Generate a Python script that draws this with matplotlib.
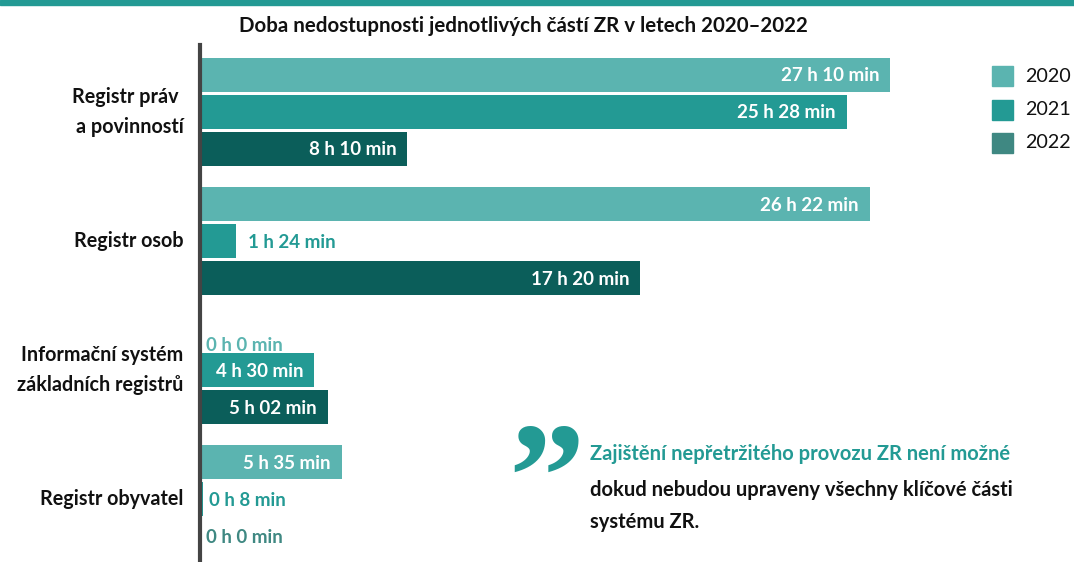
import matplotlib

matplotlib.use("Agg")
from matplotlib import pyplot
from matplotlib.patches import Rectangle

plt = pyplot
plt.rcParams["font.family"] = ["Lato", "DejaVu Sans"]

# data
categories = ["Registr práv \na povinností", "Registr osob",
              "Informační systém\nzákladních registrů", "Registr obyvatel"]
years = ["2020", "2021", "2022"]
minutes_2020 = [27 * 60 + 10, 26 * 60 + 22, 0, 5 * 60 + 35]
minutes_2021 = [25 * 60 + 28, 1 * 60 + 24, 4 * 60 + 30, 8]
minutes_2022 = [8 * 60 + 10, 17 * 60 + 20, 5 * 60 + 2, 0]
labels_2020 = ["27 h 10 min", "26 h 22 min", "0 h 0 min", "5 h 35 min"]
labels_2021 = ["25 h 28 min", "1 h 24 min", "4 h 30 min", "0 h 8 min"]
labels_2022 = ["8 h 10 min", "17 h 20 min", "5 h 02 min", "0 h 0 min"]

series = [minutes_2020, minutes_2021, minutes_2022]
series_labels = [labels_2020, labels_2021, labels_2022]
bar_colors = ["#5bb4b0", "#239a94", "#0b5e5a"]
legend_colors = ["#5bb4b0", "#239a94", "#3f8882"]
outside_colors = ["#5bb4b0", "#239a94", "#3f8882"]

W, H = 1074, 562
fig = plt.figure(figsize=(W / 100, H / 100), dpi=100)
fig.patches.append(Rectangle((0, 1 - 5 / H), 1, 5 / H, transform=fig.transFigure,
                             color="#239a94", zorder=5))

ax = fig.add_axes([200 / W, 0, 1 - 200 / W, (H - 45) / H])
group_step = 3.49
bar_h = 0.92
for k, (vals, labs) in enumerate(zip(series, series_labels)):
    pos = [g * group_step + k for g in range(len(categories))]
    ax.barh(pos, vals, height=bar_h, color=bar_colors[k], zorder=2)
    for p, v, lab in zip(pos, vals, labs):
        if v > 200:
            ax.annotate(lab, (v, p), xytext=(-11, -1), textcoords="offset pixels",
                        ha="right", va="center", color="white",
                        fontsize=13.5, fontweight="bold")
        else:
            dx = 12 if v > 20 else 6
            # the empty 2020 label sits a bit lower in the original
            dy = -12 if (v == 0 and k == 0) else -1
            ax.annotate(lab, (v, p), xytext=(dx, dy), textcoords="offset pixels",
                        ha="left", va="center", color=outside_colors[k],
                        fontsize=13.5, fontweight="bold")

ax.set_xlim(0, (W - 200) / (690 / 1630))
ax.set_ylim(13.16, -0.81)
ax.set_yticks([g * group_step + 1 for g in range(len(categories))])
ax.set_yticklabels(categories, fontsize=14.2, fontweight="bold", color="#111111",
                   linespacing=1.65)
for tick_label in ax.get_yticklabels():
    tick_label.set_va("center")
ax.tick_params(axis="y", length=0, pad=12)
ax.set_xticks([])
for side in ["top", "right", "bottom"]:
    ax.spines[side].set_visible(False)
ax.spines["left"].set_linewidth(3)
ax.spines["left"].set_color("#444444")
ax.patch.set_alpha(0)

fig.text(523 / W, 1 - 26 / H, "Doba nedostupnosti jednotlivých částí ZR v letech 2020–2022",
         ha="center", va="center", fontsize=14.8, fontweight="bold", color="#111111")

# legend
for k, year in enumerate(years):
    yc = 76 + 33.5 * k
    fig.patches.append(Rectangle((992 / W, 1 - (yc + 10) / H), 21 / W, 20 / H,
                                 transform=fig.transFigure, color=legend_colors[k]))
    fig.text(1025 / W, 1 - yc / H, year, ha="left", va="center", fontsize=14.2,
             color="#111111")

# quote
fig.text(546 / W, 1 - 528 / H, "\u201d", ha="center", va="baseline", fontsize=110,
         fontweight="bold", family=["Liberation Serif", "DejaVu Serif"], color="#239a94")
fig.text(590 / W, 1 - 454 / H, "Zajištění nepřetržitého provozu ZR není možné",
         ha="left", va="center", fontsize=14.5, fontweight="bold", color="#239a94")
fig.text(590 / W, 1 - 490 / H, "dokud nebudou upraveny všechny klíčové části",
         ha="left", va="center", fontsize=14.5, fontweight="bold", color="#111111")
fig.text(590 / W, 1 - 522 / H, "systému ZR.",
         ha="left", va="center", fontsize=14.5, fontweight="bold", color="#111111")

fig.savefig("out.png", dpi=100)
